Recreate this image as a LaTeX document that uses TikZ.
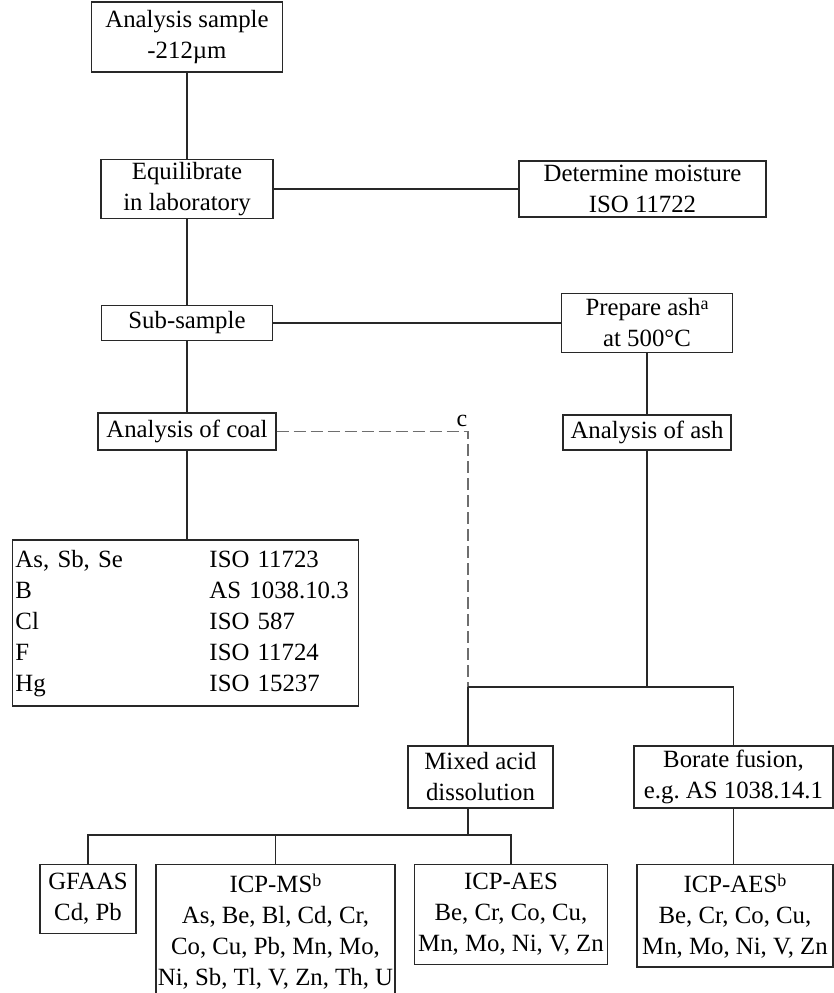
\documentclass[tikz,border=0pt]{standalone}
\usepackage{fontspec}
\setmainfont{Liberation Serif}
\usetikzlibrary{positioning, calc}
\definecolor{linegrey}{RGB}{40,40,40}
\definecolor{dashgrey}{RGB}{110,110,110}
\newcommand{\fnmark}[1]{\raisebox{0.55ex}{\fontsize{9}{9}\selectfont #1}}
\tikzset{
    stepbox/.style={rectangle, draw=linegrey, line width=0.7pt, align=center, font=\fontsize{12.4}{15.5}\selectfont\frenchspacing, inner xsep=2pt, inner ysep=1.5pt},
    resultbox/.style={stepbox, anchor=north, inner ysep=4.4pt},
    link/.style={draw=linegrey, line width=0.55pt},
    optlink/.style={draw=dashgrey, line width=0.6pt, dash pattern=on 6pt off 2.5pt},
    notelbl/.style={font=\fontsize{12}{14}\selectfont, inner sep=1pt}
}

\begin{document}
\begin{tikzpicture}[x=0.5pt, y=-0.5pt]
        \useasboundingbox (0,0) rectangle (834,993);
        % === Sample preparation ===
        \node[stepbox, minimum width=95.5pt, minimum height=35pt] (sample) at (187,37) {Analysis sample\\-212µm};
        \node[stepbox, minimum width=86pt, minimum height=28.5pt] (equil) at (187,189) {Equilibrate\\in laboratory};
        \node[stepbox, minimum width=123.5pt, minimum height=28pt] (moist) at (642.5,189) {Determine moisture\\ISO 11722};
        \node[stepbox, minimum width=85.5pt, minimum height=17.5pt] (sub) at (187,323) {Sub-sample};
        \node[stepbox, minimum width=85.5pt, minimum height=29.5pt] (ash) at (647,323) {Prepare ash\fnmark{a}\\at 500°C};
        
        % === Analysis of coal / ash ===
        \node[stepbox, minimum width=89pt, minimum height=18.5pt] (coal) at (187,431.5) {Analysis of coal};
        \node[stepbox, minimum width=84pt, minimum height=17.5pt] (ashan) at (647,432.5) {Analysis of ash};
        \node[stepbox, text width=170pt, align=left, minimum height=83pt, inner xsep=1.5pt] (coallist) at (185.5,623) {%
            \begin{tabular}{@{}p{97pt}@{}l@{}}
            As, Sb, Se & ISO 11723\\
            B & AS 1038.10.3\\
            Cl & ISO 587\\
            F & ISO 11724\\
            Hg & ISO 15237
            \end{tabular}};
        
        % === Digestion ===
        \node[stepbox, minimum width=72.5pt, minimum height=31pt] (mixed) at (480.5,777) {Mixed acid\\dissolution};
        \node[stepbox, minimum width=99.5pt, minimum height=31pt] (borate) at (733.5,777) {Borate fusion,\\e.g. AS 1038.14.1};
        
        % === Determination ===
        \node[resultbox, minimum width=48pt] (gfaas) at (88,864) {GFAAS\\Cd, Pb};
        \node[resultbox, minimum width=119.5pt, inner xsep=0.5pt] (icpms) at (275.5,864) {ICP-MS\fnmark{b}\\As, Be, Bl, Cd, Cr,\\Co, Cu, Pb, Mn, Mo,\\Ni, Sb, Tl, V, Zn, Th, U};
        \node[resultbox, minimum width=96pt] (icpaes) at (511,864) {ICP-AES\\Be, Cr, Co, Cu,\\Mn, Mo, Ni, V, Zn};
        \node[resultbox, minimum width=98pt] (icpaesb) at (735,864) {ICP-AES\fnmark{b}\\Be, Cr, Co, Cu,\\Mn, Mo, Ni, V, Zn};
        
        % junctions
        \coordinate (jn) at (468,687);
        \coordinate (split) at (468,835);
        
        % === Connectors ===
        \draw[link] (sample) -- (equil);
        \draw[link] (equil) -- (moist);
        \draw[link] (equil) -- (sub);
        \draw[link] (sub) -- (ash);
        \draw[link] (sub) -- (coal);
        \draw[link] (ash) -- (ashan);
        \draw[link] (coal.south) -- (coal.south |- coallist.north);
        \draw[optlink] (coal.east) -| (jn) node[notelbl, pos=0.5, above, xshift=-3pt, yshift=1pt] {c};
        \draw[link] (ashan.south) -- (ashan.south |- jn);
        \draw[link] (jn) -| (borate.north);
        \draw[link] (jn) -- (jn |- mixed.north);
        \draw[link] (jn |- mixed.south) -- (split);
        \draw[link] (gfaas.north) |- (split) -| (icpaes.north);
        \draw[link] (icpms.north) -- (icpms.north |- split);
        \draw[link] (borate.south) -- (borate.south |- icpaesb.north);
    \end{tikzpicture}
\end{document}
